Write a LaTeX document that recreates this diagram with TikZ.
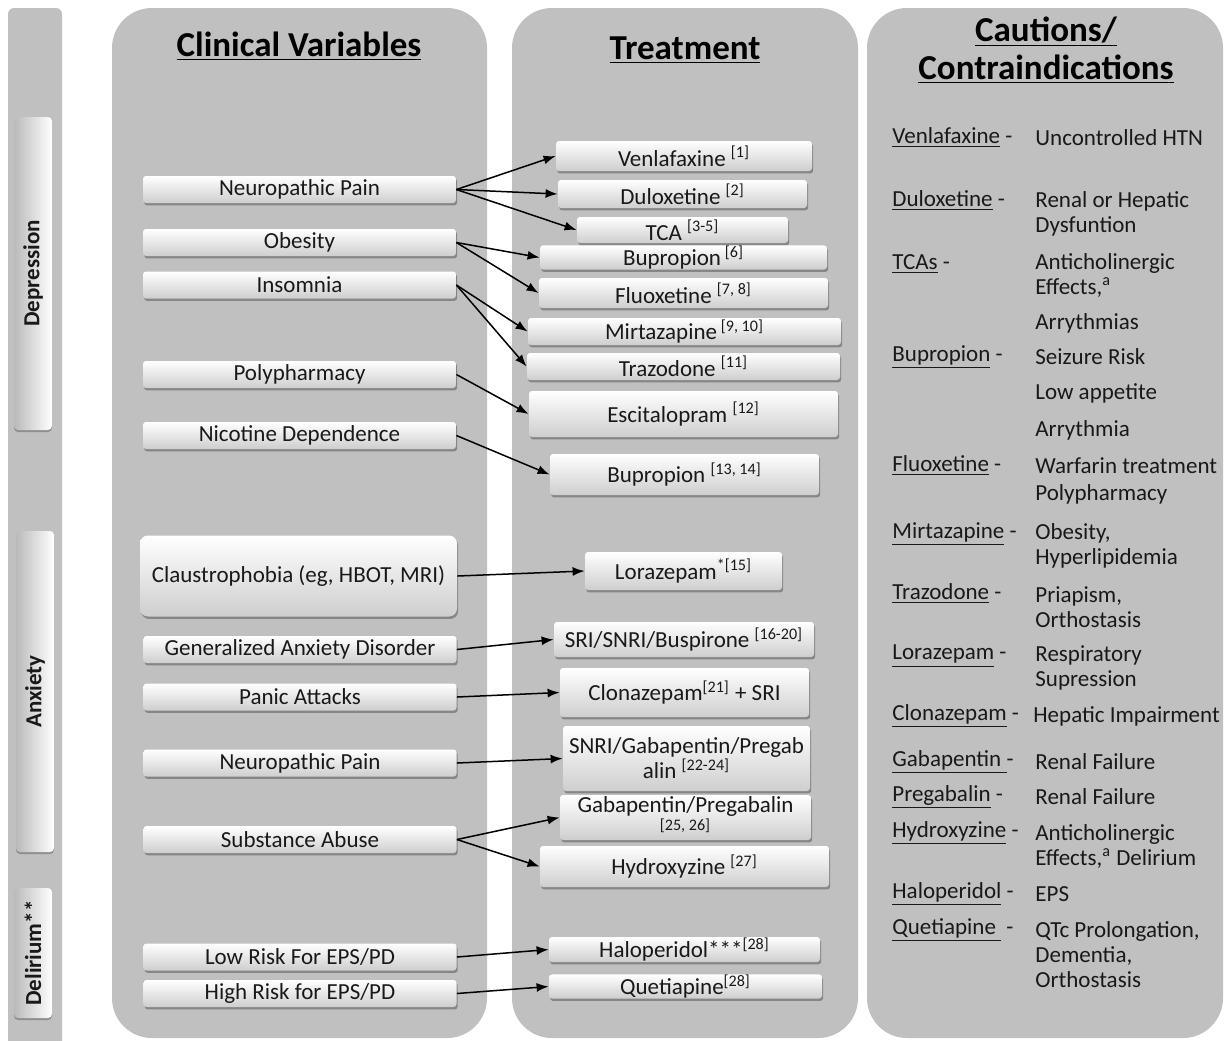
\documentclass[tikz,border=0pt]{standalone}
\usepackage{fontspec}
\setmainfont{Carlito}
\usetikzlibrary{arrows.meta,shadows}

\definecolor{panelgray}{RGB}{192,192,192}
\definecolor{boxgray}{RGB}{206,206,206}
\definecolor{sidegray}{RGB}{186,186,186}
\definecolor{inkgray}{RGB}{25,25,25}

\begin{document}
\begin{tikzpicture}[x=0.5pt, y=-0.5pt,
    panel/.style={fill=panelgray, rounded corners=20pt},
    shadowbox/.style={top color=white, bottom color=boxgray, rounded corners=1.5pt, inner sep=0pt, align=center, text=inkgray,
      font=\fontsize{11.5}{12.5}\selectfont, drop shadow={shadow xshift=0.6pt, shadow yshift=-1.2pt, fill=black, opacity=0.3}},
    varbox/.style={shadowbox, minimum width=156.5pt, minimum height=13.5pt},
    drugbox/.style 2 args={shadowbox, minimum width=#1, minimum height=#2},
    sidebox/.style={rotate=90, left color=sidegray, right color=white, rounded corners=2pt, minimum height=19pt, inner sep=0pt,
      font=\fontsize{11.5}{13}\selectfont\bfseries, text=inkgray, drop shadow={shadow xshift=0pt, shadow yshift=-1pt, fill=black, opacity=0.25}},
    heading/.style={font=\fontsize{17.5}{19}\selectfont\bfseries, align=center},
    drug/.style={anchor=west, inner sep=0pt, font=\fontsize{11.5}{12.5}\selectfont, text=inkgray},
    effect/.style={drug, align=left},
    arr/.style={-{Latex[length=6pt, width=4.5pt]}, line width=0.75pt}]
    \useasboundingbox[fill=white] (0,0) rectangle (1225,1040);

    % Panels
    \fill[panelgray, rounded corners=3pt] (8,8) rectangle (62,1050);
    \fill[panel] (112,8) rectangle (487,1038);
    \fill[panel] (512,8) rectangle (858,1038);
    \fill[panel] (867,8) rectangle (1223,1038);

    % Side labels
    \node (depression) [sidebox, minimum width=156.5pt] at (33,273.5) {Depression};
    \node (anxiety) [sidebox, minimum width=160.5pt] at (35,691.5) {Anxiety};
    \node (delirium) [sidebox, minimum width=65pt] at (33,953) {Delirium**};

    % Headings
    \node (clinical-variables) [heading, anchor=base] at (299,56) {\underline{Clinical Variables}};
    \node (treatment) [heading, anchor=base] at (685,59) {\underline{Treatment}};
    \node (cautions) [heading] at (1046,50) {\underline{Cautions/}\\\underline{Contraindications}};

    % Nodes
    \node (neuropathic-pain) [varbox] at (299.5,189.5) {Neuropathic Pain};
    \node (obesity) [varbox] at (299.5,242.5) {Obesity};
    \node (insomnia) [varbox] at (299.5,285) {Insomnia};
    \node (polypharmacy) [varbox] at (299.5,374.5) {Polypharmacy};
    \node (nicotine) [varbox] at (299.5,435.5) {Nicotine Dependence};
    \node (claustrophobia) [varbox, minimum width=158.5pt, minimum height=40.5pt, rounded corners=4pt] at (298.5,576) {Claustrophobia (eg, HBOT, MRI)};
    \node (anxiety-disorder) [varbox] at (300,649.5) {Generalized Anxiety Disorder};
    \node (panic) [varbox] at (300,697) {Panic Attacks};
    \node (neuropathic-pain-b) [varbox] at (300,763) {Neuropathic Pain};
    \node (substance) [varbox] at (300,839.5) {Substance Abuse};
    \node (low-risk) [varbox] at (300,957) {Low Risk For EPS/PD};
    \node (high-risk) [varbox] at (300,993.5) {High Risk for EPS/PD};

    \node (venlafaxine) [drugbox={128pt}{15pt}] at (684,156) {Venlafaxine \textsuperscript{[1]}};
    \node (duloxetine) [drugbox={124.5pt}{14pt}] at (682.5,194) {Duloxetine \textsuperscript{[2]}};
    \node (tca) [drugbox={105.5pt}{13pt}] at (682.5,230) {TCA \textsuperscript{[3-5]}};
    \node (bupropion) [drugbox={143.5pt}{10.5pt}] at (683.5,257.5) {Bupropion\,\textsuperscript{[6]}};
    \node (fluoxetine) [drugbox={144.5pt}{15pt}] at (683.5,293) {Fluoxetine \textsuperscript{[7, 8]}};
    \node (mirtazapine) [drugbox={156.5pt}{13.5pt}] at (684.5,331.5) {Mirtazapine\,\textsuperscript{[9, 10]}};
    \node (trazodone) [drugbox={156.5pt}{13.5pt}] at (683.5,366.5) {Trazodone \textsuperscript{[11]}};
    \node (escitalopram) [drugbox={154.5pt}{23pt}] at (683.5,414) {Escitalopram \textsuperscript{[12]}};
    \node (bupropion-b) [drugbox={134.5pt}{20.5pt}] at (684.5,474.5) {Bupropion \textsuperscript{[13, 14]}};
    \node (lorazepam) [drugbox={98.5pt}{19pt}] at (683.5,571) {Lorazepam\textsuperscript{*[15]}};
    \node (sri) [drugbox={130pt}{17.5pt}] at (684,639.5) {SRI/SNRI/Buspirone \textsuperscript{[16-20]}};
    \node (clonazepam) [drugbox={124.5pt}{24.5pt}] at (684.5,692.5) {Clonazepam\textsuperscript{[21]} + SRI};
    \node (snri) [drugbox={123.5pt}{32.5pt}] at (686.5,758.5) {SNRI/Gabapentin/Pregab\\alin \textsuperscript{[22-24]}};
    \node (gabapentin) [drugbox={125.5pt}{22.5pt}] at (685.5,817.5) {Gabapentin/Pregabalin\\[1pt]\textsuperscript{[25, 26]}};
    \node (hydroxyzine) [drugbox={144.5pt}{20.5pt}] at (684.5,866.5) {Hydroxyzine \textsuperscript{[27]}};
    \node (haloperidol) [drugbox={135.5pt}{12.5pt}] at (684.5,949.5) {Haloperidol***\textsuperscript{[28]}};
    \node (quetiapine) [drugbox={136.5pt}{7.5pt}] at (685.5,986.5) {Quetiapine\textsuperscript{[28]}};

    \node (caution-venlafaxine) [drug] at (892,138) {\underline{Venlafaxine} -};
    \node (effect-venlafaxine) [effect] at (1035,138) {Uncontrolled HTN};
    \node (caution-duloxetine) [drug] at (892,201) {\underline{Duloxetine} -};
    \node (effect-duloxetine) [effect] at (1035,213.5) {Renal or Hepatic\\Dysfuntion};
    \node (caution-tcas) [drug] at (892,264) {\underline{TCAs} -};
    \node (effect-tcas) [effect] at (1035,275.5) {Anticholinergic\\Effects,\textsuperscript{a}};
    \node (effect-tcas-b) [effect] at (1035,323) {Arrythmias};
    \node (caution-bupropion) [drug] at (892,357) {\underline{Bupropion} -};
    \node (effect-bupropion) [effect] at (1035,357) {Seizure Risk};
    \node (effect-bupropion-b) [effect] at (1035,393) {Low appetite};
    \node (effect-bupropion-c) [effect] at (1035,430) {Arrythmia};
    \node (caution-fluoxetine) [drug] at (892,466) {\underline{Fluoxetine} -};
    \node (effect-fluoxetine) [effect] at (1035,466) {Warfarin treatment};
    \node (effect-fluoxetine-b) [effect] at (1035,494) {Polypharmacy};
    \node (caution-mirtazapine) [drug] at (892,534) {\underline{Mirtazapine} -};
    \node (effect-mirtazapine) [effect] at (1035,546) {Obesity,\\Hyperlipidemia};
    \node (caution-trazodone) [drug] at (892,594) {\underline{Trazodone} -};
    \node (effect-trazodone) [effect] at (1035,607) {Priapism,\\Orthostasis};
    \node (caution-lorazepam) [drug] at (892,656) {\underline{Lorazepam} -};
    \node (effect-lorazepam) [effect] at (1035,668) {Respiratory\\Supression};
    \node (caution-clonazepam) [drug] at (892,716) {\underline{Clonazepam} -};
    \node (effect-clonazepam) [effect] at (1033,716) {Hepatic Impairment};
    \node (caution-gabapentin) [drug] at (892,762) {\underline{Gabapentin }-};
    \node (effect-gabapentin) [effect] at (1035,762) {Renal Failure};
    \node (caution-pregabalin) [drug] at (892,797) {\underline{Pregabalin} -};
    \node (effect-pregabalin) [effect] at (1035,797) {Renal Failure};
    \node (caution-hydroxyzine) [drug] at (892,833) {\underline{Hydroxyzine} -};
    \node (effect-hydroxyzine) [effect] at (1035,846) {Anticholinergic\\Effects,\textsuperscript{a} Delirium};
    \node (caution-haloperidol) [drug] at (892,894) {\underline{Haloperidol} -};
    \node (effect-haloperidol) [effect] at (1035,894) {EPS};
    \node (caution-quetiapine) [drug] at (892,930) {\underline{Quetiapine }\ -};
    \node (effect-quetiapine) [effect] at (1035,955) {QTc Prolongation,\\Dementia,\\Orthostasis};

    % Arrows
    \draw[arr] (neuropathic-pain.east) -- (venlafaxine.west);
    \draw[arr] (neuropathic-pain.east) -- (duloxetine.west);
    \draw[arr] (neuropathic-pain.east) -- (tca.west);
    \draw[arr] (obesity.east) -- (bupropion.west);
    \draw[arr] (obesity.east) -- (fluoxetine.west);
    \draw[arr] (insomnia.east) -- (mirtazapine.west);
    \draw[arr] (insomnia.east) -- (trazodone.west);
    \draw[arr] (polypharmacy.east) -- (escitalopram.west);
    \draw[arr] (nicotine.east) -- (bupropion-b.west);
    \draw[arr] (claustrophobia.east) -- (lorazepam.west);
    \draw[arr] (anxiety-disorder.east) -- (sri.west);
    \draw[arr] (panic.east) -- (clonazepam.west);
    \draw[arr] (neuropathic-pain-b.east) -- (snri.west);
    \draw[arr] (substance.east) -- (gabapentin.west);
    \draw[arr] (substance.east) -- (hydroxyzine.west);
    \draw[arr] (low-risk.east) -- (haloperidol.west);
    \draw[arr] (high-risk.east) -- (quetiapine.west);
\end{tikzpicture}
\end{document}
